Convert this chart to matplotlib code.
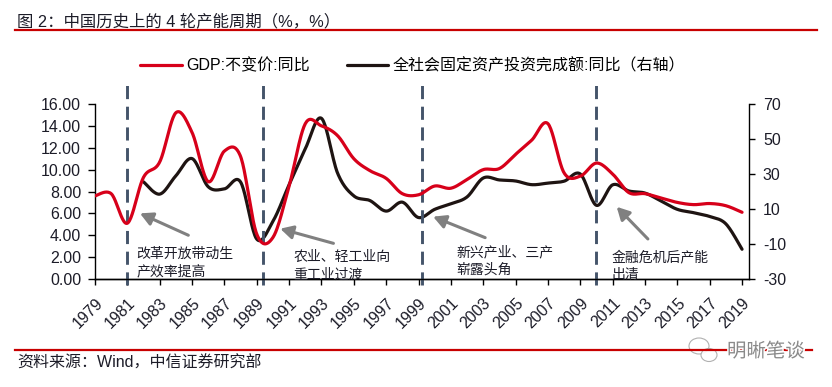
import numpy as np
import matplotlib
matplotlib.use("Agg")
import matplotlib.pyplot as plt
from matplotlib.lines import Line2D
from matplotlib.patches import Ellipse
import matplotlib.patheffects as pe

plt.rcParams['font.family'] = ['Liberation Sans', 'Noto Sans CJK SC', 'DejaVu Sans']

# ---------------- data ----------------
gdp_years = list(range(1979, 2020))
gdp = [7.6, 7.8, 5.1, 9.3, 10.7, 15.2, 13.4, 8.9, 11.7, 11.2,
       4.1, 3.8, 8.5, 14.2, 14.0, 13.1, 11.0, 9.9, 9.2, 7.8,
       7.7, 8.5, 8.3, 9.1, 10.0, 10.1, 11.4, 12.7, 14.2, 9.7,
       9.4, 10.6, 9.6, 7.9, 7.8, 7.4, 7.0, 6.8, 6.9, 6.7, 6.1]

fai_years = list(range(1982, 2020))
fai = [25.5, 18.5, 29.0, 38.8, 22.7, 21.5, 25.4, -7.2, 3.0, 23.9,
       44.4, 61.8, 30.4, 17.5, 14.8, 8.8, 13.9, 5.1, 9.8, 13.0,
       16.9, 27.7, 26.6, 26.0, 23.9, 24.8, 25.9, 30.0, 12.1, 23.8,
       20.3, 19.1, 14.5, 9.8, 7.9, 5.7, 1.5, -13.0]

tick_years = list(range(1979, 2020, 2))
left_ticks = [0, 2, 4, 6, 8, 10, 12, 14, 16]
right_ticks = [-30, -10, 10, 30, 50, 70]

series_names = ["GDP:不变价:同比", "全社会固定资产投资完成额:同比（右轴）"]
title = "图 2：中国历史上的 4 轮产能周期（%，%）"
source = "资料来源：Wind，中信证券研究部"

cycle_lines = [1981.0, 1989.4, 1999.2, 2010.0]
notes = ["改革开放带动生\n产效率提高", "农业、轻工业向\n重工业过渡",
         "新兴产业、三产\n崭露头角", "金融危机后产能\n出清"]
note_pos = [(1981.55, 1.51), (1991.25, 1.17), (2001.35, 1.63), (2010.95, 1.17)]
arrow_head = [(1981.78, 6.0), (1990.45, 4.6), (1999.9, 5.7), (2011.25, 6.6)]
arrow_tail = [(1984.77, 4.0), (1993.74, 3.26), (2003.12, 3.78), (2013.18, 3.66)]

RED = '#D7001A'
BLACK = '#1E1412'
DASH = '#44546A'
TXT = '#1c1c28'


def smooth(xs, ys, n=24):
    p = np.column_stack([np.asarray(xs, float), np.asarray(ys, float)])
    out = []
    m = len(p)
    t = np.linspace(0, 1, n)[:, None]
    for i in range(m - 1):
        p0 = p[max(i - 1, 0)]
        p1 = p[i]
        p2 = p[i + 1]
        p3 = p[min(i + 2, m - 1)]
        c1 = p1 + (p2 - p0) / 6.0
        c2 = p2 - (p3 - p1) / 6.0
        seg = ((1 - t) ** 3) * p1 + 3 * ((1 - t) ** 2) * t * c1 + 3 * (1 - t) * t ** 2 * c2 + t ** 3 * p2
        out.append(seg if i == 0 else seg[1:])
    s = np.vstack(out)
    return s[:, 0], s[:, 1]


W, H = 832, 387
fig = plt.figure(figsize=(W / 100, H / 100), dpi=100)
ax = fig.add_axes([95 / W, 1 - 279 / H, (749 - 95) / W, (279 - 104) / H])
ax2 = ax.twinx()

gx, gy = smooth(gdp_years, gdp)
l1, = ax.plot(gx, gy, color=RED, lw=2.3, solid_capstyle='round', zorder=3)
fx, fy = smooth(fai_years, fai)
l2, = ax2.plot(fx, fy, color=BLACK, lw=2.3, solid_capstyle='round', zorder=3)

ax.set_xlim(1979, 2019.43)
ax.set_ylim(0, 16)
ax2.set_ylim(-30, 70)

ax.set_xticks(tick_years)
ax.set_xticklabels([str(y) for y in tick_years], rotation=45, ha='right', va='top',
                   rotation_mode='anchor', fontsize=11.5, color=TXT)
ax.set_yticks(left_ticks)
ax.set_yticklabels([f"{v:.2f}" for v in left_ticks], fontsize=11.5, color=TXT)
ax2.set_yticks(right_ticks)
ax2.set_yticklabels([f"{v}" for v in right_ticks], fontsize=11.5, color=TXT)

ax.tick_params(axis='x', direction='out', length=4, width=1, pad=8)
ax.tick_params(axis='y', direction='out', length=5, width=1, pad=5)
ax2.tick_params(axis='y', direction='out', length=4, width=1, pad=6)

for a in (ax, ax2):
    a.spines['top'].set_visible(False)
    for s in ('left', 'right', 'bottom'):
        a.spines[s].set_linewidth(1.0)
        a.spines[s].set_color('black')
ax2.spines['left'].set_visible(False)
ax.spines['right'].set_visible(False)
ax.set_zorder(ax2.get_zorder() + 1)
ax.patch.set_visible(False)

# cycle dashed lines
for xv in cycle_lines:
    ax.plot([xv, xv], [-0.55, 17.7], color=DASH, lw=2.1, ls=(0, (4.5, 2.6)),
            clip_on=False, zorder=2)

# arrows and notes
for (hx, hy), (tx, ty) in zip(arrow_head, arrow_tail):
    ax.annotate("", xy=(hx, hy), xytext=(tx, ty),
                arrowprops=dict(arrowstyle='-|>,head_length=0.75,head_width=0.4',
                                color='#808080', lw=2.2, shrinkA=0, shrinkB=0),
                zorder=4)
for txt, (nx, ny) in zip(notes, note_pos):
    ax.text(nx, ny, txt, ha='left', va='center', fontsize=10, color=TXT,
            linespacing=1.35, family=['Noto Sans CJK SC', 'DejaVu Sans'], zorder=5)

# legend
fig.legend(handles=[l1, l2], labels=series_names, ncol=2, loc='center left',
           bbox_to_anchor=(140 / W, 1 - 65.7 / H), frameon=False, fontsize=11.5,
           handlelength=2.6, handletextpad=0.3, columnspacing=2.3,
           borderpad=0, borderaxespad=0)

# title, rules, source
fig.text(17 / W, 1 - 21.5 / H, title, ha='left', va='center', fontsize=11.8, color=TXT)
fig.add_artist(Line2D([15 / W, 817 / W], [1 - 30 / H, 1 - 30 / H], color='#C80000', lw=1.6))
fig.add_artist(Line2D([15 / W, 812 / W], [1 - 350 / H, 1 - 350 / H], color='#C80000', lw=1.6))
fig.text(17 / W, 1 - 363.5 / H, source, ha='left', va='center', fontsize=11.5, color=TXT)

# watermark
fig.add_artist(Ellipse((699 / W, 1 - 346 / H), 20 / W, 16 / H, facecolor='white',
                       edgecolor='#a8a8a8', lw=0.8, alpha=0.9))
fig.add_artist(Ellipse((709 / W, 1 - 355 / H), 16 / W, 13 / H, facecolor='white',
                       edgecolor='#a8a8a8', lw=0.8, alpha=0.9))
fig.text(727 / W, 1 - 351.5 / H, "明晰笔谈", ha='left', va='center', fontsize=14,
         color='#8a8a8a', family=['Noto Sans CJK SC', 'DejaVu Sans'],
         path_effects=[pe.withStroke(linewidth=2, foreground='white')])

fig.savefig("out.png", dpi=100)
